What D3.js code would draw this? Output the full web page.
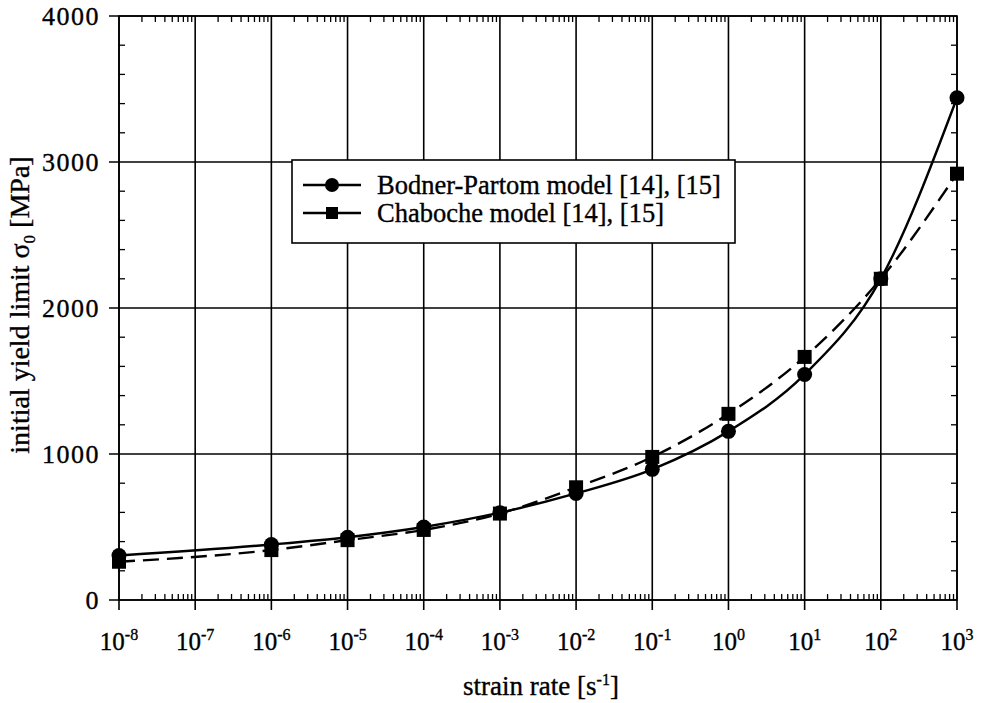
<!DOCTYPE html>
<html>
<head>
<meta charset="utf-8">
<script src="https://cdn.jsdelivr.net/npm/d3@7"></script>
<style>
  body { margin: 0; background: #fff; }
  svg text { font-family: "Liberation Serif", "DejaVu Serif", serif; fill: #000; stroke: #000; stroke-width: 0.35px; }
</style>
</head>
<body>
<script>
// strain rate exponents and values
var exponents = [-8, -7, -6, -5, -4, -3, -2, -1, 0, 1, 2, 3];
var rates = [1e-8, 1e-6, 1e-5, 1e-4, 1e-3, 1e-2, 1e-1, 1e0, 1e1, 1e2, 1e3];
var bodner = [305, 380, 430, 500, 598, 730, 895, 1155, 1545, 2200, 3440];
var chaboche = [262, 342, 410, 480, 592, 772, 980, 1275, 1665, 2200, 2920];
var yTicks = [0, 1000, 2000, 3000, 4000];
var seriesNames = ["Bodner-Partom model [14], [15]", "Chaboche model [14], [15]"];

var serif = "'Liberation Serif', 'DejaVu Serif', serif";

var margin = {top: 16, right: 24, bottom: 103, left: 119},
  width = 981 - margin.left - margin.right,
  height = 703 - margin.top - margin.bottom;

var svg = d3.select("body").append("svg")
  .attr("width", 981)
  .attr("height", 703)
  .append("g")
  .attr("transform", "translate(" + margin.left + "," + margin.top + ")");

var x = d3.scaleLog().domain([1e-8, 1e3]).range([0, width]);
var y = d3.scaleLinear().domain([0, 4000]).range([height, 0]);

// minor tick positions
var minorX = [];
exponents.slice(0, -1).forEach(function (e) {
  for (var k = 2; k <= 9; k++) minorX.push(k * Math.pow(10, e));
});
var minorY = d3.range(0, 4001, 200).filter(function (v) { return v % 1000 !== 0; });

// grid
svg.append("g").selectAll("line.vg")
  .data(exponents)
  .enter().append("line")
  .attr("x1", function (d) { return x(Math.pow(10, d)); })
  .attr("x2", function (d) { return x(Math.pow(10, d)); })
  .attr("y1", 0).attr("y2", height + 10)
  .attr("stroke", "#000").attr("stroke-width", 1.6);

svg.append("g").selectAll("line.hg")
  .data(yTicks)
  .enter().append("line")
  .attr("x1", -10).attr("x2", width)
  .attr("y1", function (d) { return y(d); })
  .attr("y2", function (d) { return y(d); })
  .attr("stroke", "#000").attr("stroke-width", 1.6);

// minor ticks, all pointing inside
var ticks = svg.append("g").attr("stroke", "#000").attr("stroke-width", 1.3);
minorX.forEach(function (v) {
  ticks.append("line").attr("x1", x(v)).attr("x2", x(v)).attr("y1", height).attr("y2", height - 6);
  ticks.append("line").attr("x1", x(v)).attr("x2", x(v)).attr("y1", 0).attr("y2", 6);
});
minorY.forEach(function (v) {
  ticks.append("line").attr("x1", 0).attr("x2", 6).attr("y1", y(v)).attr("y2", y(v));
  ticks.append("line").attr("x1", width).attr("x2", width - 6).attr("y1", y(v)).attr("y2", y(v));
});

// frame
svg.append("rect")
  .attr("width", width).attr("height", height)
  .attr("fill", "none").attr("stroke", "#000").attr("stroke-width", 1.6);

// y tick labels
svg.append("g").selectAll("text")
  .data(yTicks)
  .enter().append("text")
  .attr("x", -19)
  .attr("y", function (d) { return y(d); })
  .attr("dy", "0.35em")
  .attr("text-anchor", "end")
  .style("font-family", serif)
  .style("font-size", "26px")
  .style("letter-spacing", "1.5px")
  .text(function (d) { return d; });

// x tick labels 10^n
var xl = svg.append("g").selectAll("text")
  .data(exponents)
  .enter().append("text")
  .attr("x", function (d) { return x(Math.pow(10, d)); })
  .attr("y", height + 50)
  .attr("text-anchor", "middle")
  .style("font-family", serif)
  .style("font-size", "25px");
xl.append("tspan").text("10");
xl.append("tspan")
  .attr("dy", -10)
  .style("font-size", "16px")
  .text(function (d) { return d; });

// axis titles
var xt = svg.append("text")
  .attr("x", width / 2 + 3)
  .attr("y", height + 95)
  .attr("text-anchor", "middle")
  .style("font-family", serif)
  .style("font-size", "27px");
xt.append("tspan").text("strain rate [s");
xt.append("tspan").attr("dy", -10).style("font-size", "16px").text("-1");
xt.append("tspan").attr("dy", 10).text("]");

var yt = svg.append("text")
  .attr("transform", "translate(-90," + (305 - margin.top) + ") rotate(-90)")
  .attr("text-anchor", "middle")
  .style("font-family", serif)
  .style("font-size", "28px");
yt.append("tspan").text("initial yield limit σ");
yt.append("tspan").attr("dy", 6).style("font-size", "17px").text("0");
yt.append("tspan").attr("dy", -6).text(" [MPa]");

// curves
var line = d3.line()
  .x(function (d) { return x(d[0]); })
  .y(function (d) { return y(d[1]); })
  .curve(d3.curveMonotoneX);

var bData = rates.map(function (r, i) { return [r, bodner[i]]; });
var cData = rates.map(function (r, i) { return [r, chaboche[i]]; });

svg.append("path").datum(cData)
  .attr("d", line)
  .attr("fill", "none").attr("stroke", "#000").attr("stroke-width", 2.4)
  .attr("stroke-dasharray", "16,8");

svg.append("path").datum(bData)
  .attr("d", line)
  .attr("fill", "none").attr("stroke", "#000").attr("stroke-width", 2.4);

svg.append("g").selectAll("rect")
  .data(cData)
  .enter().append("rect")
  .attr("x", function (d) { return x(d[0]) - 7; })
  .attr("y", function (d) { return y(d[1]) - 7; })
  .attr("width", 14).attr("height", 14)
  .attr("fill", "#000");

svg.append("g").selectAll("circle")
  .data(bData)
  .enter().append("circle")
  .attr("cx", function (d) { return x(d[0]); })
  .attr("cy", function (d) { return y(d[1]); })
  .attr("r", 7.5)
  .attr("fill", "#000");

// legend
var legend = svg.append("g").attr("transform", "translate(" + (292 - margin.left) + "," + (160 - margin.top) + ")");
legend.append("rect")
  .attr("width", 443).attr("height", 83)
  .attr("fill", "#fff").attr("stroke", "#000").attr("stroke-width", 1.6);

seriesNames.forEach(function (name, i) {
  var row = legend.append("g").attr("transform", "translate(0," + (25 + i * 28) + ")");
  row.append("line")
    .attr("x1", 11).attr("x2", 69).attr("y1", 0).attr("y2", 0)
    .attr("stroke", "#000").attr("stroke-width", 2.4);
  if (i === 0) {
    row.append("circle").attr("cx", 40).attr("cy", 0).attr("r", 7).attr("fill", "#000");
  } else {
    row.append("rect").attr("x", 34).attr("y", -6).attr("width", 12).attr("height", 12).attr("fill", "#000");
  }
  row.append("text")
    .attr("x", 85).attr("y", 0).attr("dy", "0.35em")
    .style("font-family", serif)
    .style("font-size", "26.5px")
    .text(name);
});
</script>
</body>
</html>
